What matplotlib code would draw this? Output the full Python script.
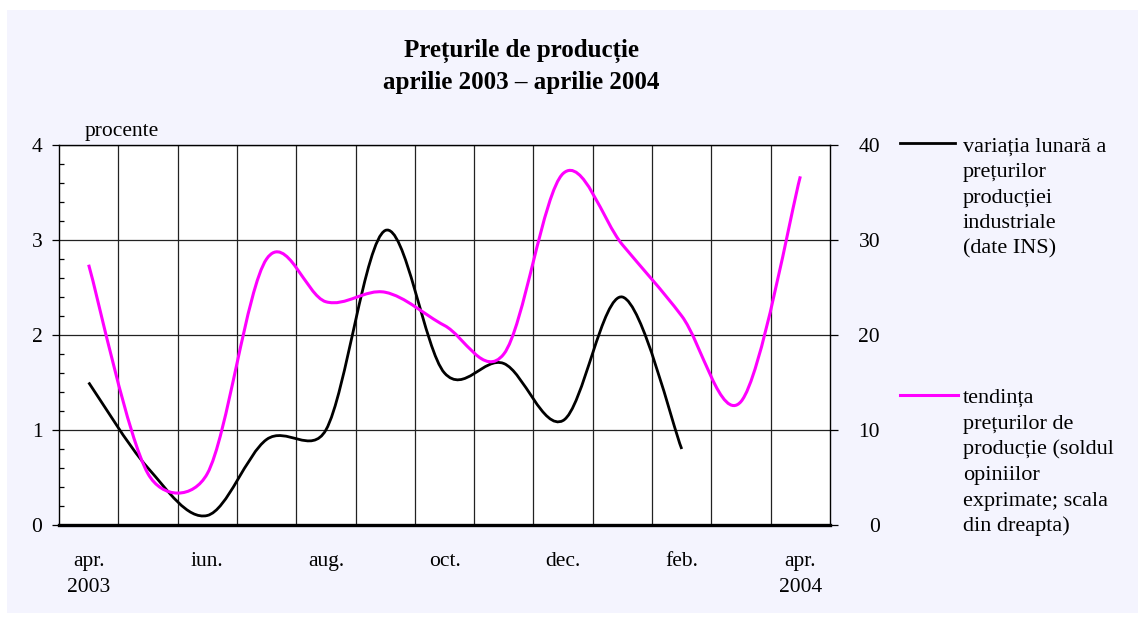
import matplotlib
matplotlib.use('Agg')
import matplotlib.pyplot as plt
import numpy as np
from matplotlib.path import Path
from matplotlib.patches import PathPatch, Rectangle
from matplotlib.lines import Line2D

plt.rcParams['font.family'] = ['Liberation Serif', 'DejaVu Serif']

# months apr 2003 .. apr 2004
months = ['apr.', 'mai', 'iun.', 'iul.', 'aug.', 'sep.', 'oct.',
          'nov.', 'dec.', 'ian.', 'feb.', 'mar.', 'apr.']
month_labels = ['apr.', '', 'iun.', '', 'aug.', '', 'oct.',
                '', 'dec.', '', 'feb.', '', 'apr.']
year_labels = ['2003', '', '', '', '', '', '', '', '', '', '', '', '2004']
# monthly change of industrial producer prices (%, left scale), apr 2003 - feb 2004
variatia = [1.5, 0.6, 0.1, 0.9, 1.0, 3.1, 1.6, 1.7, 1.1, 2.4, 0.8]
# price expectations balance (right scale), apr 2003 - apr 2004
tendinta = [27.4, 5.4, 5.4, 28.0, 23.5, 24.5, 21.0, 18.0, 37.0, 29.5, 22.0, 13.0, 36.7]

left_ticks = [0, 1, 2, 3, 4]
right_ticks = [0, 10, 20, 30, 40]

legend_black = ['variația lunară a', 'prețurilor', 'producției', 'industriale', '(date INS)']
legend_magenta = ['tendința', 'prețurilor de', 'producție (soldul', 'opiniilor',
                  'exprimate; scala', 'din dreapta)']

W, H = 1138, 621
FS = 15.5


def fx(px):
    return px / W


def fy(py):
    return 1 - py / H


def smooth_path(ax, xs, ys):
    # excel-like smoothed line: bezier segments, arms limited to half a segment
    pts = ax.transData.transform(np.column_stack([xs, ys]))
    n = len(pts)
    verts = [pts[0]]
    codes = [Path.MOVETO]
    for i in range(n - 1):
        p0 = pts[i - 1] if i > 0 else pts[i]
        p1 = pts[i]
        p2 = pts[i + 1]
        p3 = pts[i + 2] if i + 2 < n else pts[i + 1]
        d12 = np.hypot(*(p2 - p1))
        d02 = np.hypot(*(p2 - p0))
        d13 = np.hypot(*(p3 - p1))
        f = 1 / 6
        if d02 > 0 and f * d02 > d12 / 2:
            f = d12 / d02 / 2
        g = 1 / 6
        if d13 > 0 and g * d13 > d12 / 2:
            g = d12 / d13 / 2
        c1 = p1 + (p2 - p0) * f
        c2 = p2 - (p3 - p1) * g
        verts += [c1, c2, p2]
        codes += [Path.CURVE4] * 3
    verts = ax.transData.inverted().transform(np.array(verts))
    return Path(verts, codes)


fig = plt.figure(figsize=(W / 100, H / 100), dpi=100)
fig.patch.set_facecolor('white')
fig.add_artist(Rectangle((fx(7), fy(613)), fx(W - 7), (613 - 10) / H,
                         transform=fig.transFigure, facecolor='#F4F4FE',
                         edgecolor='none', zorder=-10))

ax = fig.add_axes([fx(59), fy(525), fx(830 - 59), (525 - 145) / H])
ax.set_facecolor('white')
ax.set_xlim(-0.5, len(months) - 0.5)
ax.set_ylim(0, 4)

# category boundaries as vertical grid, month names written under the centres
ax.set_xticks(np.arange(0.5, len(months) - 1, 1))
ax.set_xticklabels([])
ax.tick_params(axis='x', which='both', length=0)
ax.grid(True, axis='x', color='#222222', lw=0.9)
for i, (lab, yr) in enumerate(zip(month_labels, year_labels)):
    if lab:
        ax.text(i, -0.107, lab, transform=ax.get_xaxis_transform(), fontsize=FS,
                ha='center', va='baseline')
    if yr:
        ax.text(i, -0.1755, yr, transform=ax.get_xaxis_transform(), fontsize=FS,
                ha='center', va='baseline')

ax.set_yticks(left_ticks)
ax.set_yticklabels([str(v) for v in left_ticks], fontsize=FS)
ax.set_yticks(np.arange(0.2, 4, 0.2), minor=True)
ax.tick_params(axis='y', which='major', direction='out', length=5, width=0.9, pad=7)
ax.tick_params(axis='y', which='minor', direction='in', length=3.5, width=0.9)
ax.grid(True, axis='y', which='major', color='#222222', lw=0.9)
ax.set_axisbelow(True)

for s in ['left', 'top', 'right']:
    ax.spines[s].set_linewidth(1.0)
    ax.spines[s].set_color('black')
ax.spines['bottom'].set_linewidth(2.4)

ax2 = ax.twinx()
ax2.set_ylim(0, 40)
ax2.set_yticks(right_ticks)
ax2.set_yticklabels([str(v) for v in right_ticks], fontsize=FS)
for lbl in ax2.get_yticklabels():
    lbl.set_horizontalalignment('right')
ax2.tick_params(axis='y', direction='out', length=6, width=0.9, pad=30)
for s in ax2.spines.values():
    s.set_visible(False)

x_black = np.arange(len(variatia))
x_mag = np.arange(len(tendinta))
ax.add_patch(PathPatch(smooth_path(ax, x_black, variatia), fill=False,
                       edgecolor='black', lw=2.0, zorder=3))
ax2.add_patch(PathPatch(smooth_path(ax2, x_mag, tendinta), fill=False,
                        edgecolor='#FF00FF', lw=2.2, zorder=3))

fig.text(fx(85), fy(136), 'procente', fontsize=FS, va='baseline', ha='left')

fig.text(fx(521), fy(57), 'Prețurile de producție', fontsize=18, fontweight='bold',
         ha='center', va='baseline')
fig.text(fx(521), fy(88.5), 'aprilie 2003 – aprilie 2004', fontsize=18,
         fontweight='bold', ha='center', va='baseline')

# legend drawn by hand on the right
fig.add_artist(Line2D([fx(900), fx(955)], [fy(143), fy(143)], color='black', lw=2.0))
for i, line in enumerate(legend_black):
    fig.text(fx(963), fy(152 + 25.3 * i), line, fontsize=16, va='baseline', ha='left')
fig.add_artist(Line2D([fx(900), fx(958)], [fy(395), fy(395)], color='#FF00FF', lw=2.2))
for i, line in enumerate(legend_magenta):
    fig.text(fx(963), fy(403 + 25.7 * i), line, fontsize=16, va='baseline', ha='left')

fig.savefig('out.png', dpi=100)
